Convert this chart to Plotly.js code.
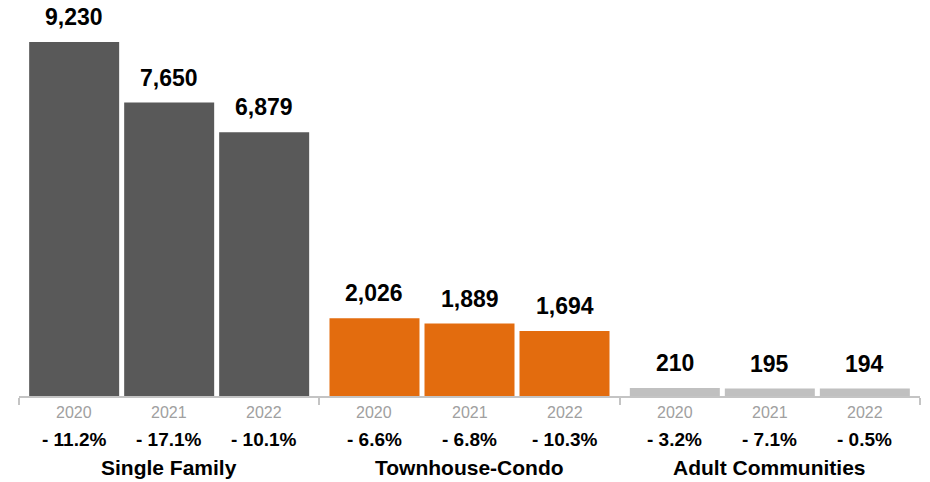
<!DOCTYPE html>
<html>
<head>
<meta charset="utf-8">
<script src="https://cdn.plot.ly/plotly-3.0.1.min.js"></script>
<style>html,body{margin:0;padding:0;background:#fff;}#chart{width:930px;height:482px;}</style>
</head>
<body>
<div id="chart"></div>
<script>
// ---- data ----
const groups = ['Single Family', 'Townhouse-Condo', 'Adult Communities'];
const years = ['2020', '2021', '2022'];
const singleFamily = [9230, 7650, 6879];
const townhouseCondo = [2026, 1889, 1694];
const adultCommunities = [210, 195, 194];
const singleFamilyChange = [-11.2, -17.1, -10.1];
const townhouseCondoChange = [-6.6, -6.8, -10.3];
const adultCommunitiesChange = [-3.2, -7.1, -0.5];

// ---- style ----
const colors = ['#595959', '#e36c0e', '#c0c0c0'];
const FONT = '"Liberation Sans", Arial, Helvetica, sans-serif';
const step = 0.949, barW = 0.899;

const series = [singleFamily, townhouseCondo, adultCommunities];
const changes = [singleFamilyChange, townhouseCondoChange, adultCommunitiesChange];

const traces = [];
const annotations = [];
series.forEach((vals, g) => {
  const xs = years.map((y, j) => g * 3 + 1.5 + (j - 1) * step);
  traces.push({
    type: 'bar', x: xs, y: vals, width: barW,
    marker: {color: colors[g], line: {width: 0}},
    name: groups[g], hoverinfo: 'skip'
  });
  xs.forEach((x, j) => {
    annotations.push({x: x, y: vals[j], xref: 'x', yref: 'y', yanchor: 'middle', yshift: 25,
      text: vals[j].toLocaleString('en-US'), showarrow: false,
      font: {family: FONT, size: 23, color: '#000', weight: 'bold'}});
    annotations.push({x: x, y: 0, xref: 'x', yref: 'paper', yanchor: 'middle', yshift: -16,
      text: years[j], showarrow: false,
      font: {family: FONT, size: 16, color: '#a0a0a0'}});
    const c = changes[g][j];
    annotations.push({x: x, y: 0, xref: 'x', yref: 'paper', yanchor: 'middle', yshift: -43,
      text: (c < 0 ? '- ' : '+ ') + Math.abs(c).toFixed(1) + '%', showarrow: false,
      font: {family: FONT, size: 19, color: '#000', weight: 'bold'}});
  });
  annotations.push({x: g * 3 + 1.5, y: 0, xref: 'x', yref: 'paper', yanchor: 'middle', yshift: -71,
    text: groups[g], showarrow: false,
    font: {family: FONT, size: 21, color: '#000', weight: 'bold'}});
});

const layout = {
  width: 930, height: 482,
  margin: {l: 19, r: 10, t: 0, b: 86, pad: 0},
  paper_bgcolor: '#fff', plot_bgcolor: '#fff',
  showlegend: false, barmode: 'overlay',
  font: {family: FONT},
  xaxis: {range: [0, 9], tickvals: [0, 3, 6, 9], ticktext: ['', '', '', ''],
    ticks: 'outside', ticklen: 7, tickwidth: 2, tickcolor: '#c4c4c4',
    showline: true, linecolor: '#c4c4c4', linewidth: 2, showgrid: false, zeroline: false,
    fixedrange: true},
  yaxis: {range: [0, 10326], visible: false, showgrid: false, zeroline: false, fixedrange: true},
  annotations: annotations
};

Plotly.newPlot('chart', traces, layout, {displayModeBar: false, staticPlot: true});
</script>
</body>
</html>
